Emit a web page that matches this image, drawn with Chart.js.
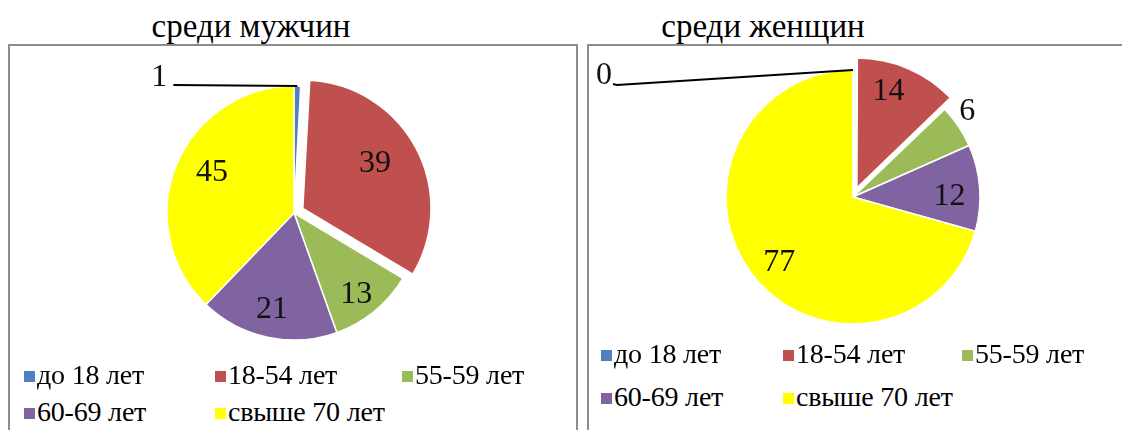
<!DOCTYPE html>
<html>
<head>
<meta charset="utf-8">
<script src="https://cdn.jsdelivr.net/npm/chart.js@4.4.0/dist/chart.umd.min.js"></script>
<style>
  html, body { margin:0; padding:0; background:#fff; }
  body { width:1122px; height:430px; position:relative; overflow:hidden; font-family:"Liberation Serif","Times New Roman",serif; color:#000; }
  .title { position:absolute; top:8px; font-family:"Liberation Serif",serif; font-size:33px; line-height:36px; white-space:nowrap; transform:translateX(-50%); }
  .panel { position:absolute; top:44px; border:2px solid #8c8c8c; box-sizing:border-box; background:#fff; }
  canvas { position:absolute; }
  .leg { position:absolute; font-family:"Liberation Serif",serif; font-size:28px; line-height:30px; white-space:nowrap; letter-spacing:-0.2px; }
  .leg i { display:inline-block; width:11px; height:11px; margin-right:2px; vertical-align:2px; }
</style>
</head>
<body>
<div class="title" style="left:251px">среди мужчин</div>
<div class="title" style="left:763px">среди женщин</div>
<div class="panel" style="left:8px; width:570px; height:400px"></div>
<div class="panel" style="left:587px; width:545px; height:400px"></div>
<canvas id="men" width="440" height="330" style="left:74px; top:48px; width:440px; height:330px"></canvas>
<canvas id="women" width="520" height="300" style="left:593px; top:47px; width:520px; height:300px"></canvas>
<div id="legMen"></div>
<div id="legWomen"></div>
<script>
const categories = ["до 18 лет", "18-54 лет", "55-59 лет", "60-69 лет", "свыше 70 лет"];
const menValues = [1, 39, 13, 21, 45];
const womenValues = [0, 14, 6, 12, 77];
const sliceColors = ["#4F81BD", "#C0504D", "#9BBB59", "#8064A2", "#FFFF00"];

const labelConfig = {
  men: {
    leaders: [{ dx: -124, dy: -1, hook: false, tx: -14, ty: -7 }, null, null, null, null],
    radial: [0, 0.76, 0.79, 0.76, 0.73],
    shift: [0, -5, 1, 1, 6]
  },
  women: {
    leaders: [{ dx: -236, dy: 15, hook: true, tx: -13, ty: -9 }, null, null, null, null],
    radial: [0, 0.9, 1.14, 0.76, 0.76],
    shift: [0, -5, -4, 2, -3]
  }
};

const sliceLabels = {
  id: 'sliceLabels',
  afterDatasetsDraw(chart) {
    const cfg = labelConfig[chart.canvas.id];
    const ctx = chart.ctx;
    const meta = chart.getDatasetMeta(0);
    const data = chart.data.datasets[0].data;
    ctx.save();
    ctx.font = '32px "Liberation Serif", serif';
    ctx.fillStyle = '#111';
    ctx.textAlign = 'center';
    ctx.textBaseline = 'middle';
    meta.data.forEach((arc, i) => {
      const p = arc.getProps(['x', 'y', 'startAngle', 'endAngle', 'outerRadius'], true);
      const mid = (p.startAngle + p.endAngle) / 2;
      const lead = cfg.leaders[i];
      if (lead) {
        const ax = p.x + Math.cos(mid) * p.outerRadius;
        const ay = p.y + Math.sin(mid) * p.outerRadius;
        ctx.beginPath();
        ctx.strokeStyle = '#000';
        ctx.lineWidth = 2;
        ctx.moveTo(ax, ay);
        ctx.lineTo(ax + lead.dx, ay + lead.dy);
        if (lead.hook) ctx.lineTo(ax + lead.dx - 4, ay + lead.dy - 1);
        ctx.stroke();
        ctx.fillText(String(data[i]), ax + lead.dx + lead.tx, ay + lead.dy + lead.ty);
      } else {
        const f = cfg.radial[i];
        const a = mid + (cfg.shift[i] || 0) * Math.PI / 180;
        ctx.fillText(String(data[i]), p.x + Math.cos(a) * p.outerRadius * f, p.y + Math.sin(a) * p.outerRadius * f + 3);
      }
    });
    ctx.restore();
  }
};

function makePie(id, values, offsets) {
  return new Chart(document.getElementById(id), {
    type: 'pie',
    data: {
      labels: categories,
      datasets: [{
        data: values,
        backgroundColor: sliceColors,
        borderColor: '#ffffff',
        borderWidth: 1.5,
        offset: offsets
      }]
    },
    options: {
      responsive: false,
      animation: false,
      radius: 127,
      layout: { padding: 0 },
      plugins: {
        legend: { display: false },
        tooltip: { enabled: false }
      }
    },
    plugins: [sliceLabels]
  });
}

makePie('men', menValues, [0, 40, 0, 0, 0]);
makePie('women', womenValues, [0, 40, 0, 0, 0]);

function buildLegend(elId, cols, rows) {
  const el = document.getElementById(elId);
  categories.forEach((c, i) => {
    const d = document.createElement('div');
    d.className = 'leg';
    const col = i < 3 ? i : i - 3;
    const row = i < 3 ? 0 : 1;
    d.style.left = cols[col] + 'px';
    d.style.top = rows[row] + 'px';
    const sq = document.createElement('i');
    sq.style.background = sliceColors[i];
    d.appendChild(sq);
    d.appendChild(document.createTextNode(c));
    el.appendChild(d);
  });
}
buildLegend('legMen', [24, 215, 402], [360, 397]);
buildLegend('legWomen', [601, 783, 962], [339, 382]);
</script>
</body>
</html>
